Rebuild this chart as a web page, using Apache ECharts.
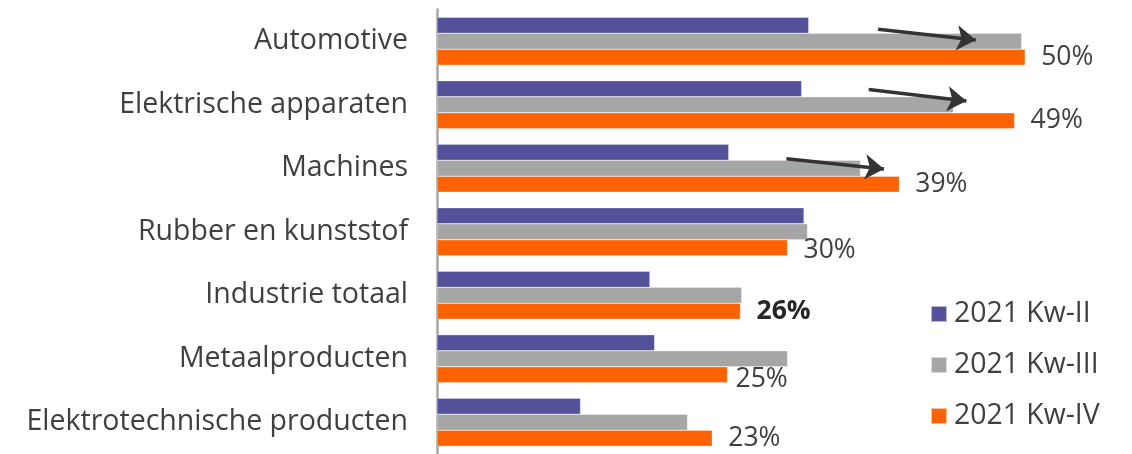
<!DOCTYPE html>
<html>
<head>
<meta charset="utf-8">
<script src="https://cdn.jsdelivr.net/npm/echarts@6/dist/echarts.min.js"></script>
<style>
html,body{margin:0;padding:0;background:#fff;}
#chart{width:1132px;height:454px;}
</style>
</head>
<body>
<div id="chart"></div>
<script>
const categories = ['Automotive','Elektrische apparaten','Machines','Rubber en kunststof','Industrie totaal','Metaalproducten','Elektrotechnische producten'];
const seriesNames = ['2021 Kw-II','2021 Kw-III','2021 Kw-IV'];
const kwII  = [31.6, 31.0, 24.8, 31.2, 18.1, 18.5, 12.2];
const kwIII = [49.7, 43.9, 36.0, 31.5, 25.9, 29.8, 21.3];
const kwIV  = [50.0, 49.1, 39.3, 29.8, 25.8, 24.7, 23.4];
// arrow annotations: [startValue, startRow], [endValue, endRow]
const arrowStarts = [[37.5, -0.19], [36.7, 0.76], [29.7, 1.85]];
const arrowEnds   = [[45.8, -0.02], [45.0, 0.94], [38.0, 2.01]];

const FONT = '"Open Sans", sans-serif';
const TXT = '#404040';
const colors = ['#52519a', '#a6a6a6', '#ff6200'];

const labelOverrides = {
  3: {offset: [0, 3]},
  4: {fontWeight: 'bold', color: '#262626'},
  5: {distance: 8, offset: [0, 5]}
};

const chart = echarts.init(document.getElementById('chart'));
const mkBar = (name, vals, idx) => ({
  name: name,
  type: 'bar',
  yAxisIndex: 0,
  barWidth: 16,
  barGap: '0%',
  itemStyle: {color: colors[idx], borderColor: 'rgba(255,255,255,0.6)', borderWidth: 0.5},
  data: vals.map((v, i) => {
    if (idx !== 2) return v;
    const o = labelOverrides[i];
    return o ? {value: v, label: Object.assign({}, o)} : v;
  }),
  label: idx === 2 ? {
    show: true, position: 'right', distance: 16,
    fontFamily: FONT, fontSize: 26.5, color: TXT,
    formatter: p => Math.round(p.value) + '%'
  } : {show: false},
  z: 2
});

chart.setOption({
  animation: false,
  backgroundColor: '#fff',
  textStyle: {fontFamily: FONT},
  grid: {left: 437, right: 48, top: 9.5, height: 448, containLabel: false},
  xAxis: {type: 'value', min: 0, max: 55, show: false},
  yAxis: [{
    type: 'category', data: categories, inverse: true,
    axisLine: {show: true, lineStyle: {color: '#a6a6a6', width: 2.5}},
    axisTick: {show: false},
    axisLabel: {fontFamily: FONT, fontSize: 28.5, color: TXT, margin: 29},
    splitLine: {show: false}
  }, {
    type: 'value', min: -0.5, max: 6.5, inverse: true, show: false
  }],
  legend: {
    data: seriesNames,
    orient: 'vertical', left: 925, top: 292,
    itemWidth: 16, itemHeight: 16, itemGap: 17,
    icon: 'rect',
    textStyle: {fontFamily: FONT, fontSize: 28.4, color: TXT, lineHeight: 34, padding: [0, 0, 0, 2]}
  },
  series: [
    mkBar(seriesNames[0], kwII, 0),
    mkBar(seriesNames[1], kwIII, 1),
    mkBar(seriesNames[2], kwIV, 2),
    {
      type: 'lines', coordinateSystem: 'cartesian2d', xAxisIndex: 0, yAxisIndex: 1,
      symbol: ['none', 'arrow'], symbolSize: 19,
      lineStyle: {color: '#333333', width: 3.5, opacity: 1},
      z: 5,
      data: arrowStarts.map((s, i) => ({coords: [s, arrowEnds[i]]}))
    }
  ]
});
</script>
</body>
</html>
